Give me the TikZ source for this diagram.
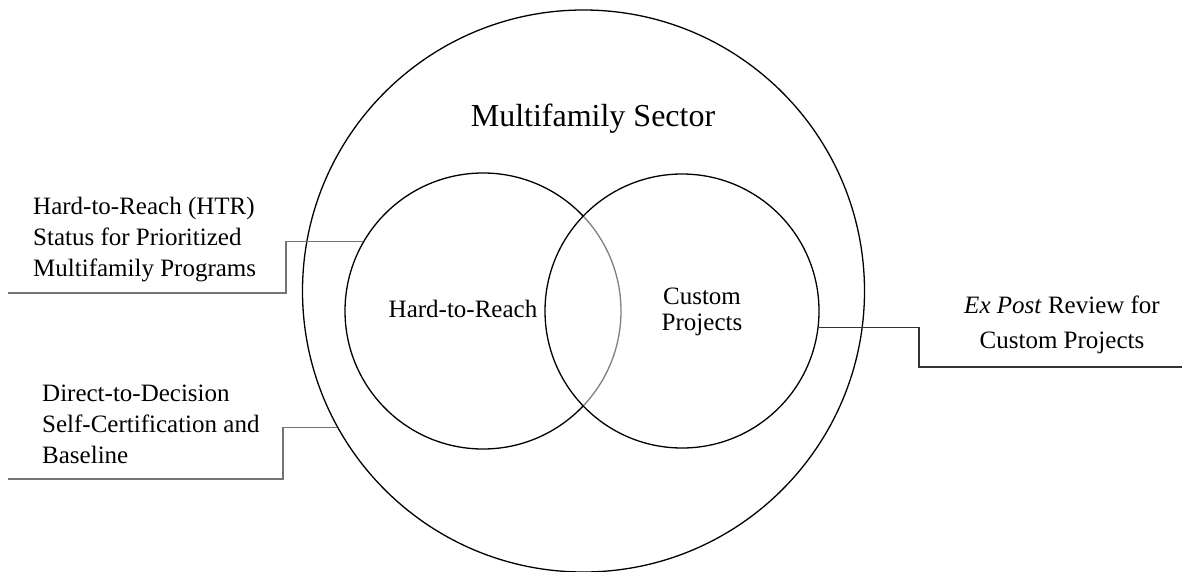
\documentclass[tikz,border=0pt]{standalone}
\usepackage{fontspec}
\setmainfont{Liberation Serif}

\begin{document}
\begin{tikzpicture}[
    x=1pt, y=-1pt,
    ring/.style={circle, draw, line width=1.3pt, inner sep=0pt},
    lbl/.style={inner sep=0pt, font=\fontsize{25}{31}\selectfont},
    leader/.style={draw=black!55, line width=1.1pt}
]
\useasboundingbox (0,0) rectangle (1182,571);

% sector with the two overlapping groups
\node[ring, minimum size=562pt] (sector) at (583.5,291) {};
\node[ring, minimum size=276pt] (htr) at (483,311) {};
\node[ring, minimum size=274pt, fill=white, fill opacity=0.5] (custom) at (682,311) {};

\node[lbl, anchor=base, font=\fontsize{32}{38}\selectfont] (title) at (593,126) {Multifamily Sector};
\node[lbl, anchor=base] (htrtext) at (463,317) {Hard-to-Reach};
\node[lbl, align=center, font=\fontsize{25}{26}\selectfont] (customtext) at (702,312) {Custom\\Projects};

% side notes
\node[lbl, anchor=west, align=left] (htrnote) at (33,240)
    {Hard-to-Reach (HTR)\\Status for Prioritized\\Multifamily Programs};
\node[lbl, anchor=west, align=left] (dtdnote) at (42,424)
    {Direct-to-Decision\\Self-Certification and\\Baseline};
\node[lbl, align=center, font=\fontsize{25}{35}\selectfont] (expostnote) at (1062,325)
    {\textit{Ex Post} Review for\\Custom Projects};

\coordinate (htrfoot) at (8,293);
\coordinate (dtdfoot) at (8,479);
\coordinate (expostfoot) at (1182,367);

\draw[leader] (htr.150.5) -| (286,293) -- (htrfoot);
\draw[leader] (sector.209) -| (283,479) -- (dtdfoot);
\draw[leader, draw=black!80] (custom.-7.5) -| (919,367) -- (expostfoot);
\end{tikzpicture}
\end{document}
